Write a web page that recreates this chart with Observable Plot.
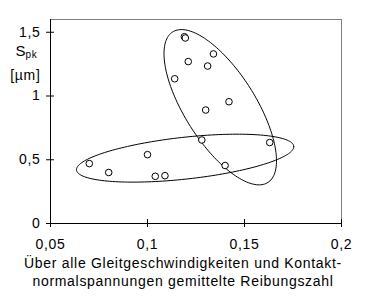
<!DOCTYPE html>
<html><head><meta charset="utf-8">
<script src="https://cdn.jsdelivr.net/npm/d3@7"></script>
<script src="https://cdn.jsdelivr.net/npm/@observablehq/plot@0.6"></script>
<style>body{margin:0;background:#fff} svg{display:block} svg text{letter-spacing:0.7px}</style>
</head><body><div id="chart"></div>
<script>
// Data
const reibungszahl = [0.119, 0.1195, 0.134, 0.121, 0.131, 0.114, 0.142, 0.130, 0.128, 0.163, 0.140, 0.100, 0.070, 0.080, 0.104, 0.109];
const spk          = [1.465, 1.455, 1.33, 1.27, 1.235, 1.135, 0.955, 0.89, 0.655, 0.635, 0.455, 0.54, 0.47, 0.40, 0.37, 0.375];
const xTicks = [0.05, 0.1, 0.15, 0.2];
const yTicks = [0, 0.5, 1, 1.5];
// Ellipses (center, half extents, tilt correlation) in data units
const ellipseCx  = [0.1375, 0.1194];
const ellipseCy  = [0.912, 0.5125];
const ellipseRx  = [0.029, 0.056];
const ellipseRy  = [0.609, 0.188];
const ellipseRho = [-0.69, 0.48];

const points = reibungszahl.map((x, i) => ({x, y: spk[i]}));
const ellipsePts = [];
ellipseCx.forEach((cx, i) => {
  const n = 180, rho = ellipseRho[i], s = Math.sqrt(1 - rho * rho);
  for (let k = 0; k <= n; k++) {
    const t = 2 * Math.PI * k / n;
    ellipsePts.push({id: i, x: cx + ellipseRx[i] * Math.cos(t),
      y: ellipseCy[i] + ellipseRy[i] * (rho * Math.cos(t) + s * Math.sin(t))});
  }
});
const fmt = d => String(d).replace(".", ",");
const font = "Liberation Sans, Arial, sans-serif";

const chart = Plot.plot({
  width: 365, height: 301,
  marginLeft: 50, marginRight: 24, marginTop: 19, marginBottom: 78,
  style: {fontFamily: font, fontSize: "14px", color: "black", background: "white"},
  x: {domain: [0.05, 0.2], axis: null},
  y: {domain: [0, 1.6], axis: null},
  marks: [
    Plot.frame({stroke: "#808080"}),
    Plot.ruleX([0.05], {stroke: "black"}),
    Plot.ruleY([0], {stroke: "black"}),
    Plot.axisY(yTicks, {tickSize: 8, dx: 4, tickFormat: () => "", label: null, stroke: "black"}),
    Plot.axisY(yTicks, {tickSize: 0, tickPadding: 10, tickFormat: fmt, label: null, fontSize: 14, fill: "black"}),
    Plot.axisX(xTicks, {tickSize: 8, dy: -4, tickFormat: () => "", label: null, stroke: "black"}),
    Plot.axisX(xTicks, {tickSize: 0, tickPadding: 16, tickFormat: fmt, label: null, fontSize: 14, fill: "black"}),
    Plot.line(ellipsePts, {x: "x", y: "y", z: "id", stroke: "black", strokeWidth: 1}),
    Plot.dot(points, {x: "x", y: "y", r: 3.3, stroke: "black", fill: "white", strokeWidth: 1}),
    Plot.text(["S"], {frameAnchor: "top-left", textAnchor: "start", dx: -35, dy: 26, fontSize: 15, fill: "black"}),
    Plot.text(["pk"], {frameAnchor: "top-left", textAnchor: "start", dx: -25, dy: 31, fontSize: 10, fill: "black"}),
    Plot.text(["[µm]"], {frameAnchor: "top-left", textAnchor: "end", dx: -10, dy: 51, fontSize: 14, fill: "black"}),
    Plot.text(["Über alle Gleitgeschwindigkeiten und Kontakt-"], {frameAnchor: "bottom", dx: -13, dy: 44, fontSize: 14, fill: "black"}),
    Plot.text(["normalspannungen gemittelte Reibungszahl"], {frameAnchor: "bottom", dx: -13, dy: 62, fontSize: 14, fill: "black"})
  ]
});
document.getElementById("chart").appendChild(chart);
</script>
</body></html>
